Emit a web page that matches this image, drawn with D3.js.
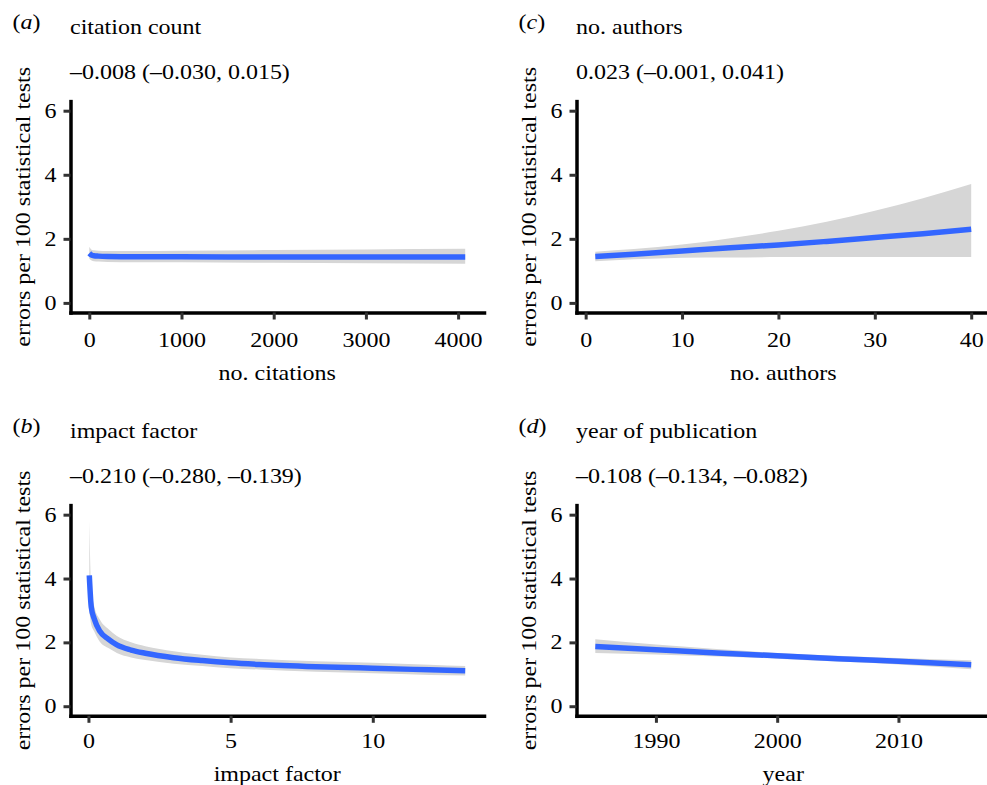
<!DOCTYPE html>
<html>
<head>
<meta charset="utf-8">
<script src="https://cdn.jsdelivr.net/npm/d3@7/dist/d3.min.js"></script>
<style>
  body { margin: 0; background: #fff; }
  svg text { font-family: "Liberation Serif", "Times New Roman", serif; font-size: 20px; fill: #000; }
</style>
</head>
<body>
<svg width="987" height="785"></svg>
<script>
// (a) citation count
const citeX   = [0, 25, 50, 100, 200, 500, 1000, 2000, 3000, 4077];
const citeFit = [1.55, 1.49, 1.47, 1.46, 1.45, 1.44, 1.44, 1.43, 1.43, 1.43];
const citeLo  = [1.38, 1.32, 1.30, 1.29, 1.28, 1.27, 1.27, 1.25, 1.24, 1.22];
const citeHi  = [1.75, 1.66, 1.64, 1.63, 1.62, 1.62, 1.63, 1.65, 1.67, 1.69];
const citeTicks = [0, 1000, 2000, 3000, 4000];

// (b) impact factor
const impX   = [0.03, 0.1, 0.2, 0.4, 0.7, 1, 1.5, 2, 3, 4, 5, 6, 8, 10, 12, 13.25];
const impFit = [4.1, 3.1, 2.75, 2.35, 2.1, 1.92, 1.76, 1.66, 1.52, 1.43, 1.36, 1.31, 1.24, 1.19, 1.14, 1.11];
const impHi  = [5.8, 3.75, 3.15, 2.72, 2.42, 2.2, 2.0, 1.88, 1.72, 1.61, 1.53, 1.48, 1.41, 1.36, 1.30, 1.26];
const impLo  = [3.0, 2.55, 2.35, 2.02, 1.82, 1.67, 1.53, 1.45, 1.33, 1.26, 1.19, 1.15, 1.08, 1.03, 0.98, 0.96];
const impTicks = [0, 5, 10];

// (c) no. authors
const authX   = [1, 5, 10, 15, 20, 25, 30, 35, 40];
const authFit = [1.45, 1.52, 1.62, 1.72, 1.81, 1.92, 2.04, 2.16, 2.30];
const authHi  = [1.60, 1.68, 1.82, 2.02, 2.25, 2.53, 2.88, 3.27, 3.71];
const authLo  = [1.30, 1.36, 1.41, 1.42, 1.43, 1.43, 1.43, 1.43, 1.43];
const authTicks = [0, 10, 20, 30, 40];

// (d) year of publication
const yearX   = [1985, 1990, 1995, 2000, 2005, 2010, 2016];
const yearFit = [1.87, 1.77, 1.67, 1.58, 1.49, 1.41, 1.30];
const yearHi  = [2.10, 1.93, 1.79, 1.67, 1.58, 1.51, 1.44];
const yearLo  = [1.67, 1.62, 1.56, 1.49, 1.40, 1.31, 1.16];
const yearTicks = [1990, 2000, 2010];

const yTicks = [0, 2, 4, 6];
const yTitle = "errors per 100 statistical tests";

const panels = [
  { tag: "a", title: "citation count", stat: "\u20130.008 (\u20130.030, 0.015)", xlab: "no. citations",
    x: citeX, fit: citeFit, lo: citeLo, hi: citeHi, ticks: citeTicks, col: 0, row: 0 },
  { tag: "b", title: "impact factor", stat: "\u20130.210 (\u20130.280, \u20130.139)", xlab: "impact factor",
    x: impX, fit: impFit, lo: impLo, hi: impHi, ticks: impTicks, col: 0, row: 1 },
  { tag: "c", title: "no. authors", stat: "0.023 (\u20130.001, 0.041)", xlab: "no. authors",
    x: authX, fit: authFit, lo: authLo, hi: authHi, ticks: authTicks, col: 1, row: 0 },
  { tag: "d", title: "year of publication", stat: "\u20130.108 (\u20130.134, \u20130.082)", xlab: "year",
    x: yearX, fit: yearFit, lo: yearLo, hi: yearHi, ticks: yearTicks, col: 1, row: 1 }
];

const svg = d3.select("svg");
svg.append("rect").attr("width", 987).attr("height", 785).attr("fill", "#fff");

// text is drawn a little wider than the font, like the original
function txt(g, x, y, s, anchor, rot) {
  const t = g.append("g")
    .attr("transform", `translate(${x},${y}) rotate(${rot || 0}) scale(1.2,1)`)
    .append("text")
    .attr("text-anchor", anchor || "start")
    .text(s);
  return t;
}

const colL = [70.5, 576.5], colR = [484, 990];
const rowT = [101.1, 505.1], rowB = [312.5, 715.8];
const tickGap = [34.2, 32.5], xlabGap = [67.5, 65];

panels.forEach(p => {
  const L = colL[p.col], R = colR[p.col], T = rowT[p.row], B = rowB[p.row];
  const g = svg.append("g");

  // ggplot style 5% expansion
  const ext = d3.extent(p.x);
  const pad = (ext[1] - ext[0]) * 0.05;
  const x = d3.scaleLinear().domain([ext[0] - pad, ext[1] + pad]).range([L, R]);
  const y = d3.scaleLinear().domain([-0.3, 6.3]).range([B, T]);

  const rows = p.x.map((v, i) => ({ x: v, fit: p.fit[i], lo: p.lo[i], hi: p.hi[i] }));

  g.append("path")
    .datum(rows)
    .attr("fill", "#d6d6d6")
    .attr("d", d3.area().curve(d3.curveMonotoneX)
      .x(d => x(d.x)).y0(d => y(d.lo)).y1(d => y(d.hi)));

  g.append("path")
    .datum(rows)
    .attr("fill", "none")
    .attr("stroke", "#3366ff")
    .attr("stroke-width", 5.5)
    .attr("d", d3.line().curve(d3.curveMonotoneX).x(d => x(d.x)).y(d => y(d.fit)));

  // axes
  const ya = g.append("g").attr("transform", `translate(${L},0)`)
    .call(d3.axisLeft(y).tickValues(yTicks).tickSize(7).tickSizeOuter(0).tickFormat(d3.format("d")));
  const xa = g.append("g").attr("transform", `translate(0,${B})`)
    .call(d3.axisBottom(x).tickValues(p.ticks).tickSize(7).tickSizeOuter(0).tickFormat(d3.format("d")));

  [ya, xa].forEach(a => {
    a.select(".domain").attr("stroke", "#000").attr("stroke-width", 3.5).attr("stroke-linecap", "square");
    a.selectAll(".tick line").attr("stroke", "#333").attr("stroke-width", 3);
    a.attr("font-family", null).attr("font-size", null);
  });
  ya.selectAll(".tick text").attr("x", null).attr("dy", null)
    .attr("transform", "translate(-14,6.6) scale(1.2,1)");
  xa.selectAll(".tick text").attr("y", null).attr("dy", null)
    .attr("transform", `translate(0,${tickGap[p.row]}) scale(1.2,1)`);
  ya.raise();

  // labels
  const tag = txt(g, L - 58, T - 72, "(", "start");
  tag.append("tspan").attr("font-style", "italic").text(p.tag);
  tag.append("tspan").text(")");
  txt(g, L - 0.5, T - 67, p.title, "start");
  txt(g, L - 0.5, T - 22, p.stat, "start");
  txt(g, (L + R) / 2, B + xlabGap[p.row], p.xlab, "middle");
  txt(g, L - 41, (T + B) / 2, yTitle, "middle", -90);
});
</script>
</body>
</html>
